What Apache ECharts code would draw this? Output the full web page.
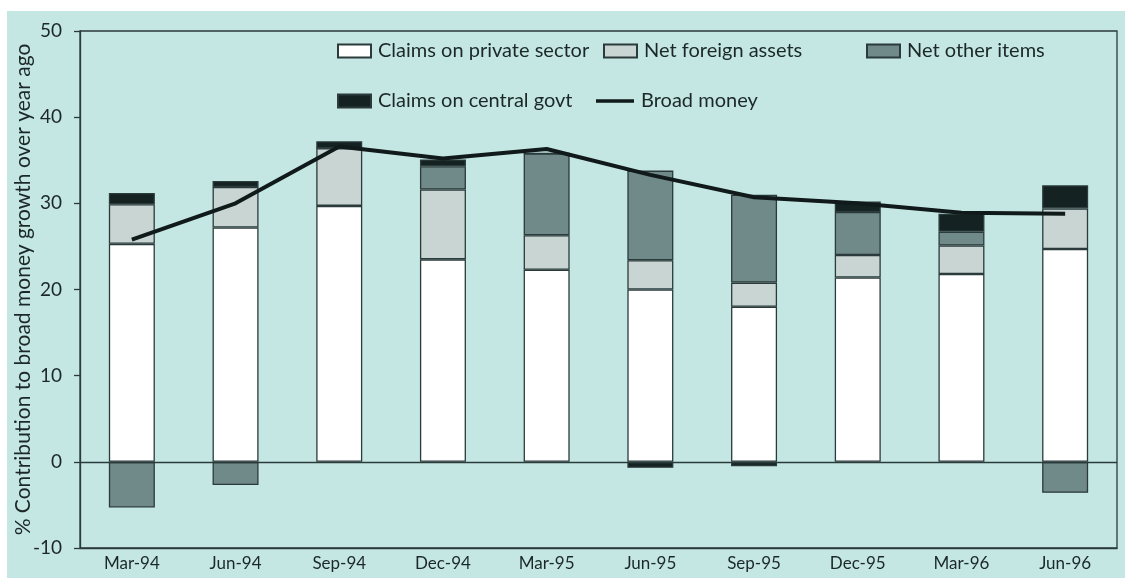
<!DOCTYPE html>
<html>
<head>
<meta charset="utf-8">
<script src="https://cdn.jsdelivr.net/npm/echarts@6/dist/echarts.min.js"></script>
<style>
  html, body { margin: 0; padding: 0; background: #ffffff; }
  #wrap { position: relative; width: 1125px; height: 578px; background: #ffffff; overflow: hidden; }
  #panel { position: absolute; left: 7px; top: 11px; right: 0; bottom: 0; background: #c4e7e4; }
  #chart { position: absolute; left: 0; top: 0; width: 1125px; height: 578px; }
</style>
</head>
<body>
<div id="wrap">
  <div id="panel"></div>
  <div id="chart"></div>
</div>
<script>
// Quarterly contributions to broad money growth (% points, year on year)
const categories = ['Mar-94', 'Jun-94', 'Sep-94', 'Dec-94', 'Mar-95', 'Jun-95', 'Sep-95', 'Dec-95', 'Mar-96', 'Jun-96'];
const claimsPrivate = [25.3, 27.2, 29.7, 23.5, 22.3, 20.0, 18.0, 21.4, 21.8, 24.7];
const netForeign    = [4.6, 4.7, 6.7, 8.1, 4.0, 3.4, 2.8, 2.6, 3.3, 4.7];
const netOther      = [-5.3, -2.7, 0, 2.7, 9.5, 10.4, 10.2, 5.0, 1.6, -3.6];
const claimsGovt    = [1.3, 0.7, 0.8, 0.8, 0, -0.7, -0.5, 1.2, 2.1, 2.7];
const broadMoney    = [25.8, 30.0, 36.6, 35.2, 36.3, 33.3, 30.7, 30.0, 28.9, 28.8];
const yTicks = { min: -10, max: 50, step: 10 };

const ink = '#1c2828';
const edge = '#2b3a3a';
const font = 'Lato, "Open Sans", sans-serif';

const chart = echarts.init(document.getElementById('chart'), null, { renderer: 'canvas' });

function barSeries(name, data, color) {
  return {
    name: name,
    type: 'bar',
    stack: 'total',
    barWidth: 46,
    data: data,
    itemStyle: { color: color, borderColor: edge, borderWidth: 1.3 },
    emphasis: { disabled: true }
  };
}

function legendAt(name, left, top, w, h) {
  return {
    data: [{ name: name, icon: 'rect' }],
    left: left,
    top: top,
    itemWidth: w,
    itemHeight: h,
    padding: 0,
    selectedMode: false,
    textStyle: { color: ink, fontFamily: font, fontSize: 20, padding: [0, 0, 0, 2] }
  };
}

const privateBars = barSeries('Claims on private sector', claimsPrivate, '#ffffff');
privateBars.markLine = {
  silent: true,
  symbol: 'none',
  label: { show: false },
  lineStyle: { color: edge, width: 1.3, type: 'solid' },
  data: [{ yAxis: 0 }]
};

chart.setOption({
  backgroundColor: 'transparent',
  animation: false,
  grid: {
    left: 80, right: 8, top: 31, bottom: 30,
    outerBoundsMode: 'none',
    containLabel: false,
    show: true, borderColor: edge, borderWidth: 1.3, backgroundColor: 'transparent'
  },
  legend: [
    legendAt('Claims on private sector', 337, 41, 33, 13),
    legendAt('Net foreign assets', 603, 41, 33, 13),
    legendAt('Net other items', 866, 41, 33, 13),
    legendAt('Claims on central govt', 337, 91, 33, 13),
    legendAt('Broad money', 596, 91, 38, 3.5)
  ],
  xAxis: {
    type: 'category',
    data: categories,
    axisLine: { show: true, onZero: false, lineStyle: { color: edge, width: 1.3 } },
    axisTick: { show: false },
    axisLabel: { color: ink, fontFamily: font, fontSize: 17, margin: 7 }
  },
  yAxis: {
    type: 'value',
    min: yTicks.min,
    max: yTicks.max,
    interval: yTicks.step,
    name: '% Contribution to broad money growth over year ago',
    nameLocation: 'middle',
    nameGap: 46,
    nameMoveOverlap: false,
    nameTextStyle: { color: ink, fontFamily: font, fontSize: 21 },
    axisLine: { show: true, lineStyle: { color: edge, width: 1.3 } },
    axisTick: { show: true, length: 6, lineStyle: { color: edge, width: 1.3 } },
    axisLabel: { color: ink, fontFamily: font, fontSize: 19, margin: 18 },
    splitLine: { show: false }
  },
  series: [
    privateBars,
    barSeries('Net foreign assets', netForeign, '#c8d5d3'),
    barSeries('Net other items', netOther, '#6f8a88'),
    barSeries('Claims on central govt', claimsGovt, '#142222'),
    {
      name: 'Broad money',
      type: 'line',
      data: broadMoney,
      symbol: 'none',
      z: 5,
      lineStyle: { color: '#111a1a', width: 4 },
      itemStyle: { color: '#111a1a' },
      emphasis: { disabled: true }
    }
  ]
});
</script>
</body>
</html>
